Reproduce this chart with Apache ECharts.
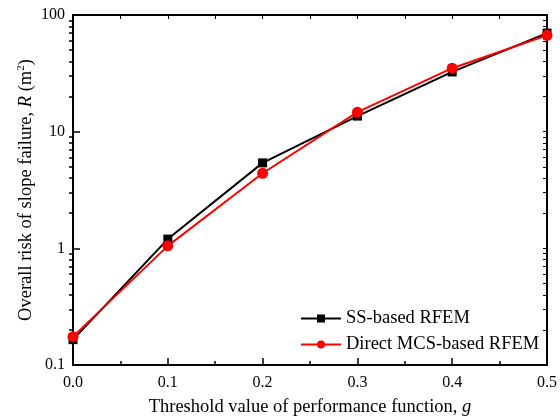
<!DOCTYPE html>
<html>
<head>
<meta charset="utf-8">
<script src="https://cdn.jsdelivr.net/npm/echarts@6/dist/echarts.min.js"></script>
<style>
    html, body {margin: 0; padding: 0; background: #fff;}
    #chart {width: 560px; height: 416px;}
</style>
</head>
<body>
<div id="chart"></div>
<script>
    var thresholds = [0.0, 0.1, 0.2, 0.3, 0.4, 0.5];
    var ssRisk = [0.165, 1.2, 5.4, 13.6, 32.5, 70];
    var mcsRisk = [0.175, 1.05, 4.4, 14.7, 35, 67];
    var yMajorTicks = [0.1, 1, 10, 100];
    var yMinorTicks = [0.2, 0.3, 0.4, 0.5, 0.6, 0.7, 0.8, 0.9, 2, 3, 4, 5, 6, 7, 8, 9, 20, 30, 40, 50, 60, 70, 80, 90];

    var font = 'Liberation Serif';

    function pairs(ys) {
        return thresholds.map(function (x, i) {
            return [x, ys[i]];
        });
    }

    var chart = echarts.init(document.getElementById('chart'));
    var option = {
        backgroundColor: '#fff',
        animation: false,
        grid: {left: 73, right: 13, top: 15, bottom: 51, outerBoundsMode: 'none', containLabel: false},
        legend: {
            orient: 'vertical',
            left: 295,
            top: 304,
            itemWidth: 40,
            itemHeight: 10,
            itemGap: 7,
            textStyle: {fontFamily: font, fontSize: 18.5, color: '#000'},
            data: ['SS-based RFEM', 'Direct MCS-based RFEM']
        },
        xAxis: [
            {
                type: 'value',
                min: 0,
                max: 0.5,
                interval: 0.1,
                name: 'Threshold value of performance function, {i|g}',
                nameLocation: 'middle',
                nameGap: 33,
                nameMoveOverlap: false,
                nameTextStyle: {
                    fontFamily: font, fontSize: 18.5, color: '#000',
                    rich: {i: {fontFamily: font, fontSize: 18.5, fontStyle: 'italic', color: '#000'}}
                },
                axisLine: {lineStyle: {color: '#000', width: 2}},
                axisTick: {inside: true, length: 7, lineStyle: {color: '#000', width: 1.5}},
                minorTick: {show: true, splitNumber: 2, length: 4, lineStyle: {color: '#000', width: 1.5}},
                axisLabel: {
                    fontFamily: font, fontSize: 16, color: '#000', margin: 10,
                    formatter: function (v) { return v.toFixed(1); }
                },
                splitLine: {show: false}
            },
            {
                type: 'value',
                position: 'top',
                min: 0,
                max: 0.5,
                interval: 0.05,
                axisLine: {lineStyle: {color: '#000', width: 2}},
                axisTick: {inside: true, length: 4, lineStyle: {color: '#000', width: 1}},
                axisLabel: {show: false},
                splitLine: {show: false}
            }
        ],
        yAxis: [
            {
                type: 'log',
                logBase: 10,
                min: 0.1,
                max: 100,
                name: '{n|Overall risk of slope failure, }{i|R}{n| (m}{s|2}{n|)}',
                nameLocation: 'middle',
                nameGap: 37,
                nameMoveOverlap: false,
                nameTextStyle: {
                    rich: {
                        n: {fontFamily: font, fontSize: 18.5, color: '#000'},
                        i: {fontFamily: font, fontSize: 18.5, fontStyle: 'italic', color: '#000'},
                        s: {fontFamily: font, fontSize: 11, color: '#000', padding: [0, 0, 9, 0]}
                    }
                },
                axisLine: {lineStyle: {color: '#000', width: 2}},
                axisTick: {inside: true, length: 7, customValues: yMajorTicks, lineStyle: {color: '#000', width: 1.5}},
                axisLabel: {
                    fontFamily: font, fontSize: 16, color: '#000', margin: 8,
                    customValues: yMajorTicks,
                    formatter: function (v) { return String(v); }
                },
                splitLine: {show: false}
            },
            {
                type: 'log',
                logBase: 10,
                min: 0.1,
                max: 100,
                axisLine: {show: false},
                axisTick: {inside: true, length: 4, customValues: yMinorTicks, lineStyle: {color: '#000', width: 1.5}},
                axisLabel: {show: false},
                splitLine: {show: false}
            },
            {
                type: 'log',
                logBase: 10,
                min: 0.1,
                max: 100,
                position: 'right',
                axisLine: {lineStyle: {color: '#000', width: 2}},
                axisTick: {inside: true, length: 4, customValues: yMajorTicks.concat(yMinorTicks), lineStyle: {color: '#000', width: 1}},
                axisLabel: {show: false},
                splitLine: {show: false}
            }
        ],
        series: [
            {
                name: 'SS-based RFEM',
                type: 'line',
                data: pairs(ssRisk),
                symbol: 'rect',
                symbolSize: 9,
                lineStyle: {color: '#000', width: 2},
                itemStyle: {color: '#000'}
            },
            {
                name: 'Direct MCS-based RFEM',
                type: 'line',
                data: pairs(mcsRisk),
                symbol: 'circle',
                symbolSize: 11,
                lineStyle: {color: '#ff0000', width: 2},
                itemStyle: {color: '#ff0000'}
            }
        ]
    };
    chart.setOption(option);
</script>
</body>
</html>
